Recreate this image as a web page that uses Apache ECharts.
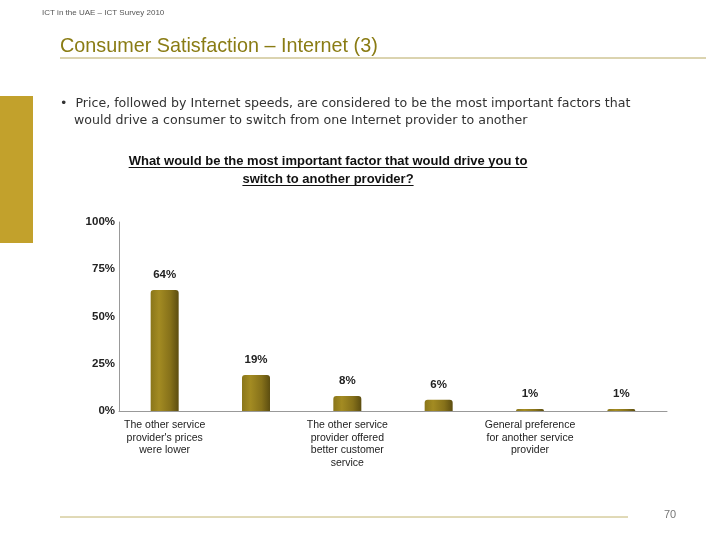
<!DOCTYPE html>
<html>
<head>
<meta charset="utf-8">
<script src="https://cdn.jsdelivr.net/npm/echarts@6/dist/echarts.min.js"></script>
<style>
html,body{margin:0;padding:0;background:#fff;}
#chart{width:720px;height:540px;}
</style>
</head>
<body>
<div id="chart"></div>
<script>
var categories = [
  "The other service\nprovider's prices\nwere lower",
  "The other service\nprovider offered\nfaster Internet speed",
  "The other service\nprovider offered\nbetter customer\nservice",
  "Other",
  "General preference\nfor another service\nprovider",
  "Don't know"
];
var values = [64, 19, 8, 6, 1, 1];
var yTicks = [0, 25, 50, 75, 100];
var chartTitleLines = ['What would be the most important factor that would drive you to', 'switch to another provider?'];

var FONT = "'Liberation Sans',Arial,sans-serif";
var TITLE_SIZE = 13, TITLE_CX = 328, TITLE_TOP = 152, TITLE_LH = 18;
var chart = echarts.init(document.getElementById('chart'));
var mctx = document.createElement('canvas').getContext('2d');
mctx.font = 'bold ' + TITLE_SIZE + 'px ' + FONT;
var underlines = chartTitleLines.map(function (t, i) {
  var w = mctx.measureText(t).width;
  var y = TITLE_TOP + i * TITLE_LH + 15.5;
  return {type: 'line', shape: {x1: TITLE_CX - w / 2, y1: y, x2: TITLE_CX + w / 2, y2: y}, style: {stroke: '#111', lineWidth: 1}};
});
var barColor = new echarts.graphic.LinearGradient(0, 0, 1, 0, [
  {offset: 0, color: '#8a761a'},
  {offset: 0.3, color: '#a38b22'},
  {offset: 0.7, color: '#86711a'},
  {offset: 1, color: '#5c4d10'}
]);
chart.setOption({
  animation: false,
  backgroundColor: '#fff',
  title: {
    text: chartTitleLines.join('\n'),
    left: TITLE_CX, top: TITLE_TOP, textAlign: 'center', padding: 0,
    textStyle: {fontFamily: FONT, fontSize: TITLE_SIZE, fontWeight: 'bold', color: '#111', lineHeight: TITLE_LH}
  },
  graphic: [
    {type: 'rect', shape: {x: 0, y: 96, width: 33, height: 147}, style: {fill: '#c2a12c'}},
    {type: 'text', left: 42, top: 9, style: {text: 'ICT in the UAE \u2013 ICT Survey 2010', fontFamily: FONT, fontSize: 8, fill: '#555'}},
    {type: 'text', left: 60, top: 37, style: {text: 'Consumer Satisfaction \u2013 Internet (3)', fontFamily: FONT, fontSize: 19.8, fill: '#8a7c14'}},
    {type: 'line', shape: {x1: 60, y1: 58, x2: 706, y2: 58}, style: {stroke: '#b7a860', lineWidth: 1}},
    {type: 'text', left: 60, top: 97, style: {text: '\u2022  Price, followed by Internet speeds, are considered to be the most important factors that', fontFamily: "'DejaVu Sans',sans-serif", fontSize: 12.6, fill: '#333'}},
    {type: 'text', left: 74, top: 114, style: {text: 'would drive a consumer to switch from one Internet provider to another', fontFamily: "'DejaVu Sans',sans-serif", fontSize: 12.6, fill: '#333'}},
    {type: 'line', shape: {x1: 60, y1: 517, x2: 628, y2: 517}, style: {stroke: '#c2b46e', lineWidth: 1}},
    {type: 'text', left: 664, top: 509, style: {text: '70', fontFamily: FONT, fontSize: 11, fill: '#777'}}
  ].concat(underlines),
  grid: {left: 119, right: 53, top: 222, bottom: 129, containLabel: false},
  xAxis: {
    type: 'category',
    data: categories,
    axisLine: {show: true, lineStyle: {color: '#999', width: 1}},
    axisTick: {show: false},
    axisLabel: {interval: 1, margin: 8, fontFamily: FONT, fontSize: 10.5, color: '#222', lineHeight: 12.5}
  },
  yAxis: {
    type: 'value', min: 0, max: 100, interval: 25,
    axisLine: {show: true, lineStyle: {color: '#999', width: 1}},
    axisTick: {show: false},
    splitLine: {show: false},
    axisLabel: {margin: 4, fontFamily: FONT, fontSize: 11.5, fontWeight: 'bold', color: '#222', formatter: '{value}%'}
  },
  series: [{
    type: 'bar',
    data: values,
    barWidth: 28,
    itemStyle: {color: barColor, borderRadius: [3, 3, 0, 0]},
    label: {show: true, position: 'top', distance: 9, formatter: '{c}%', fontFamily: FONT, fontSize: 11.5, fontWeight: 'bold', color: '#222'}
  }]
});
</script>
</body>
</html>
